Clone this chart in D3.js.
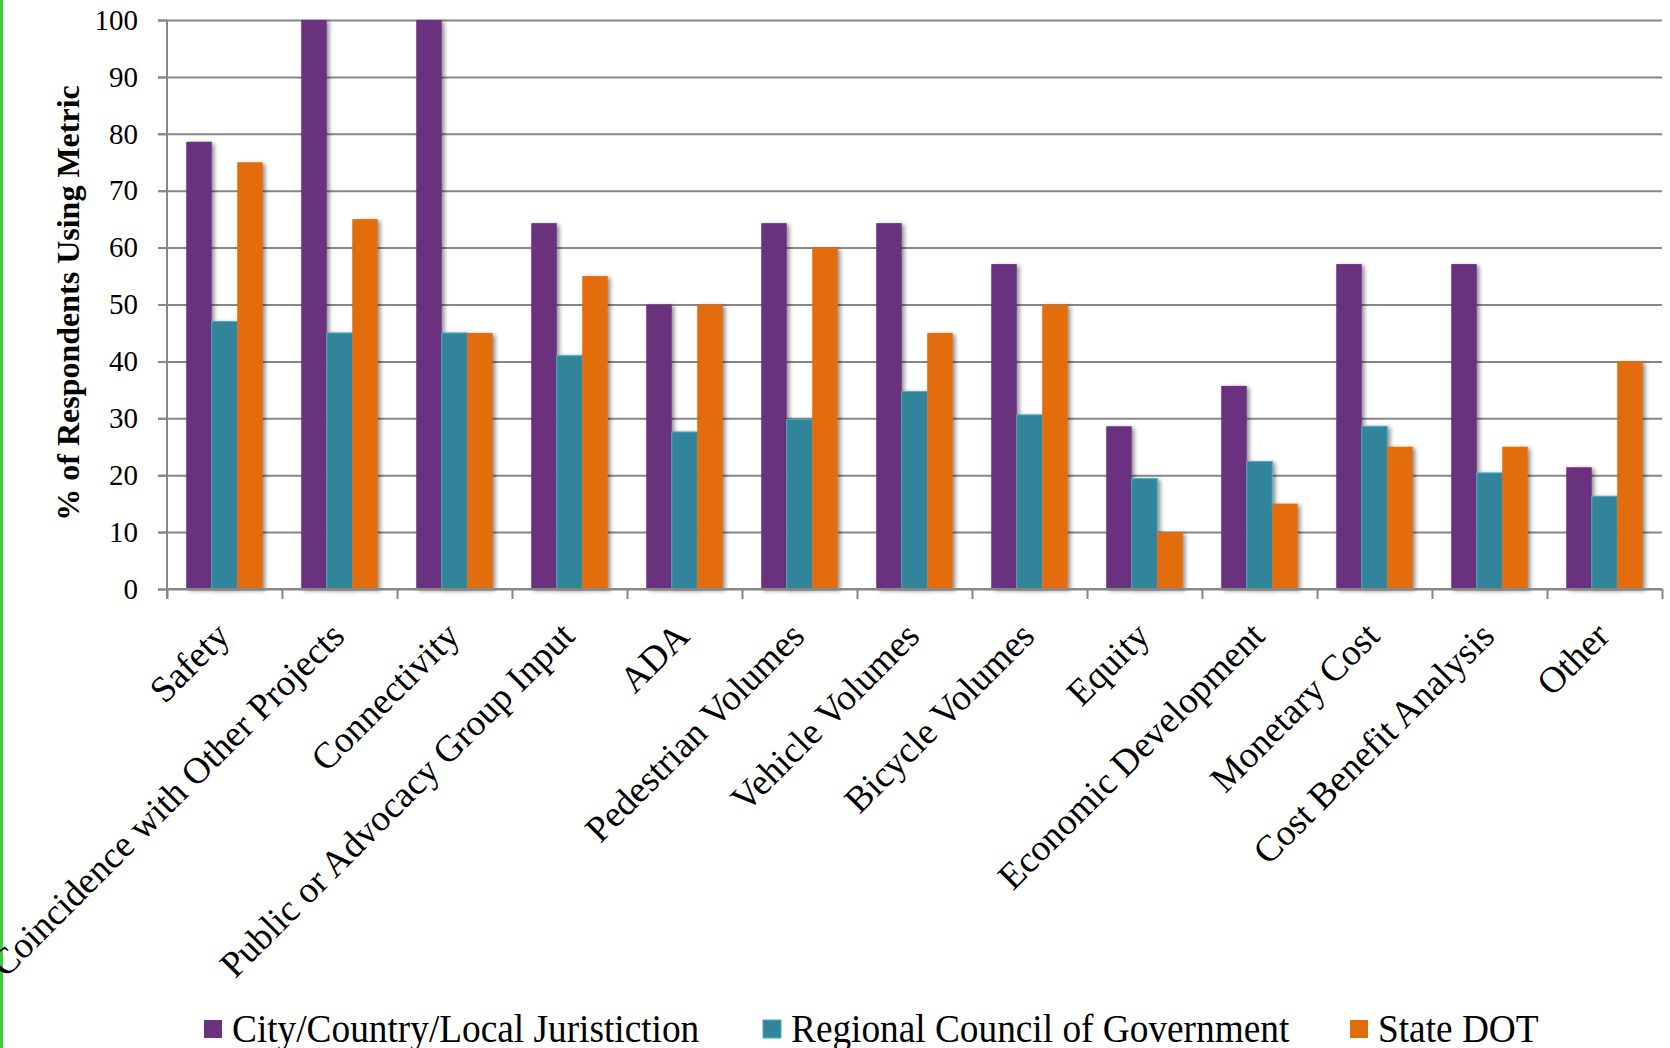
<!DOCTYPE html>
<html>
<head>
<meta charset="utf-8">
<script src="https://cdn.jsdelivr.net/npm/d3@7"></script>
<style>
  body { margin: 0; background: #fff; }
  text { font-family: "Times New Roman", "Liberation Serif", serif; }
</style>
</head>
<body>
<script>
var categories = ["Safety", "Coincidence with Other Projects", "Connectivity",
  "Public or Advocacy Group Input", "ADA", "Pedestrian Volumes", "Vehicle Volumes",
  "Bicycle Volumes", "Equity", "Economic Development", "Monetary Cost",
  "Cost Benefit Analysis", "Other"];

var seriesNames = ["City/Country/Local Juristiction", "Regional Council of Government", "State DOT"];

var cityValues     = [78.6, 100, 100, 64.3, 50, 64.3, 64.3, 57.1, 28.6, 35.7, 57.1, 57.1, 21.4];
var regionalValues = [47, 45, 45, 41, 27.6, 29.8, 34.7, 30.6, 19.4, 22.4, 28.6, 20.4, 16.3];
var stateValues    = [75, 65, 45, 55, 50, 60, 45, 50, 10, 15, 25, 25, 40];

var yTicks = [0, 10, 20, 30, 40, 50, 60, 70, 80, 90, 100];

var colors = ["#6B327E", "#31849B", "#E36C0A"];

d3.select("body").append("svg")
  .attr("width", 1670)
  .attr("height", 1048);

var svg = d3.select("svg");

var plotLeft = 167, plotRight = 1662, plotTop = 20, plotBottom = 589;

var data = categories.map(function(c, i) {
  return { cat: c, vals: [cityValues[i], regionalValues[i], stateValues[i]] };
});

var xScale = d3.scaleBand().domain(categories).range([plotLeft, plotRight]).padding(0);
var x1 = d3.scaleBand().domain(d3.range(3)).range([0, xScale.bandwidth()])
  .paddingInner(0).paddingOuter(0.755);
var yScale = d3.scaleLinear().domain([0, 100]).range([plotBottom, plotTop]);
var edge = d3.scaleLinear().domain([0, categories.length]).range([plotLeft, plotRight]);

var defs = svg.append("defs");
defs.append("filter").attr("id", "shadow")
  .attr("x", "-30%").attr("y", "-5%").attr("width", "170%").attr("height", "115%")
  .append("feDropShadow")
  .attr("dx", 2.5).attr("dy", 1.5).attr("stdDeviation", 2.2)
  .attr("flood-color", "#000").attr("flood-opacity", 0.45);

// left green edge
svg.append("rect").attr("x", 0).attr("y", 0).attr("width", 3).attr("height", 1048)
  .attr("fill", "#3ccc3c");

// gridlines
svg.append("g")
  .attr("transform", "translate(" + plotRight + ",0)")
  .call(d3.axisLeft(yScale).tickValues(yTicks).tickSize(plotRight - plotLeft + 9).tickFormat(""))
  .call(function(g) {
    g.select(".domain").remove();
    g.selectAll("line").attr("stroke", "#878787").attr("stroke-width", 2);
  });

// y axis
svg.append("g")
  .attr("transform", "translate(" + plotLeft + ",0)")
  .call(d3.axisLeft(yScale).tickValues(yTicks).tickSize(9).tickPadding(20))
  .call(function(g) {
    g.select(".domain").attr("stroke", "#878787").attr("stroke-width", 2)
      .attr("d", "M0," + plotTop + "V" + (plotBottom + 10));
    g.selectAll("line").attr("stroke", "#878787").attr("stroke-width", 2);
    g.selectAll("text").style("font-size", "29px").attr("fill", "#000")
      .style("font-family", "'Times New Roman','Liberation Serif',serif");
  });

// bars
var groups = svg.append("g").selectAll("g")
  .data(data)
  .enter().append("g")
  .attr("transform", function(d) { return "translate(" + xScale(d.cat) + ",0)"; });

groups.selectAll("rect")
  .data(function(d) { return d.vals.map(function(v, i) { return { i: i, v: v }; }); })
  .enter().append("rect")
  .attr("x", function(d) { return x1(d.i); })
  .attr("y", function(d) { return yScale(d.v); })
  .attr("width", x1.bandwidth())
  .attr("height", function(d) { return yScale(0) - yScale(d.v); })
  .attr("fill", function(d) { return colors[d.i]; })
  .attr("stroke", function(d) { return d.i == 1 ? "#4BACC6" : "none"; })
  .attr("stroke-width", 1)
  .attr("filter", "url(#shadow)");

// x axis with boundary ticks
svg.append("g")
  .attr("transform", "translate(0," + plotBottom + ")")
  .call(d3.axisBottom(edge).tickValues(d3.range(0, categories.length + 1)).tickSize(10).tickFormat(""))
  .call(function(g) {
    g.select(".domain").attr("stroke", "#878787").attr("stroke-width", 2)
      .attr("d", "M" + plotLeft + ",0H" + plotRight);
    g.selectAll("line").attr("stroke", "#878787").attr("stroke-width", 2);
  });

// category labels
svg.append("g")
  .attr("transform", "translate(0," + plotBottom + ")")
  .call(d3.axisBottom(xScale).tickSize(0).tickPadding(0))
  .call(function(g) {
    g.select(".domain").remove();
    g.selectAll("text")
      .attr("text-anchor", "end")
      .attr("y", 0).attr("dy", 0)
      .attr("transform", "translate(7,49) rotate(-45)")
      .style("font-size", "37px")
      .style("font-family", "'Times New Roman','Liberation Serif',serif")
      .attr("fill", "#000");
  });

// y axis title
svg.append("text")
  .attr("transform", "translate(79,303) rotate(-90)")
  .attr("text-anchor", "middle")
  .style("font-size", "32px")
  .style("font-weight", "bold")
  .text("% of Respondents Using Metric");

// legend
var legendX = [204, 763, 1350];
var legend = svg.append("g").selectAll("g")
  .data(seriesNames)
  .enter().append("g")
  .attr("transform", function(d, i) { return "translate(" + legendX[i] + ",1020)"; });

legend.append("rect")
  .attr("width", 18).attr("height", 18)
  .attr("fill", function(d, i) { return colors[i]; })
  .attr("stroke", function(d, i) { return i == 1 ? "#4BACC6" : "none"; });

legend.append("text")
  .attr("transform", "translate(28,22) scale(0.91,1)")
  .style("font-size", "41px")
  .text(function(d) { return d; });
</script>
</body>
</html>
